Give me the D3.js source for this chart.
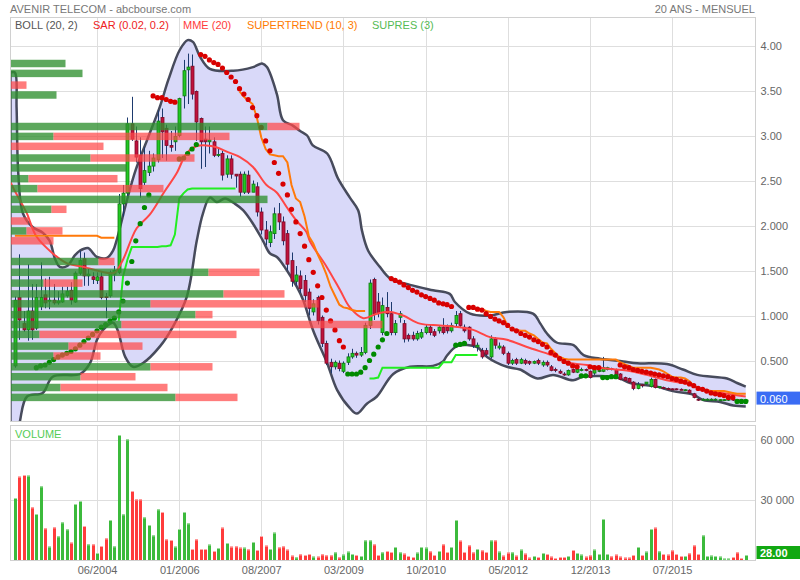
<!DOCTYPE html>
<html><head><meta charset="utf-8">
<script src="https://cdn.jsdelivr.net/npm/d3@7"></script>
<style>body{margin:0;background:#fff;}svg{display:block;font-family:"Liberation Sans",Arial,sans-serif;}</style>
</head><body><svg id="c" width="800" height="580"></svg>
<script>
// ---------- DATA (monthly, index 0 = Nov 2002) ----------
const open = [.44,1.20,.91,.84,1.05,.86,1.10,1.23,1.16,1.17, 1.14,1.15,1.22,1.28,1.15,1.47,1.63,1.44,1.43,1.39, 1.43,1.21,1.22,1.46,1.48,2.24,2.36,3.13,2.94,2.78, 2.48,2.59,2.66,2.73,3.20,3.08,2.89,2.93,3.00,3.44, 3.73,3.77,3.49,3.19,2.96,2.93,2.93,2.78,2.80,2.57, 2.74,2.57,2.57,2.37,2.56,2.37,2.43,2.15,1.95,1.81, 1.91,2.13,2.04,1.91,1.61,1.38,1.44,1.39,1.26,1.04, 1.20,.98,.69,.48,.43,.47,.38,.48,.54,.58, .56,.59,.89,1.40,1.15,.81,1.09,1.02,.81,.98, .91,.78,.78,.74,.76,.81,.87,.82,.83,.87, .87,.83,.91,1.02,.87,.87,.74,.65,.61,.61, .54,.74,.64,.65,.58,.47,.51,.47,.50,.49, .47,.50,.45,.48,.43,.40,.38,.35,.34,.40, .37,.39,.40,.38,.36,.38,.38,.40,.41,.40, .35,.31,.30,.26,.19,.23,.24,.21,.29,.20, .20,.19,.185,.185,.18,.17,.17,.13,.07,.06, .06,.06,.06,.06,.06,.06,.07,.065,.065,.055];
const high = [1.21,1.68,1.05,1.57,1.35,1.35,1.59,1.41,1.43,1.35, 1.27,1.32,1.32,1.37,1.49,1.72,1.70,1.52,1.48,1.48, 1.49,1.25,1.50,1.55,2.35,2.45,3.20,3.43,3.10,2.98, 2.87,2.83,2.80,3.28,3.30,3.12,3.05,3.10,3.42,3.84, 3.91,3.90,3.50,3.20,3.10,3.10,2.98,2.85,2.83,2.78, 2.78,2.57,2.60,2.60,2.61,2.50,2.48,2.20,2.05,2.00, 2.20,2.25,2.10,1.95,1.70,1.55,1.50,1.45,1.30,1.18, 1.22,1.00,.72,.52,.50,.50,.49,.58,.63,.60, .65,.92,1.40,1.42,1.25,1.20,1.26,1.15,.95,1.05, .95,.80,.82,.83,.85,.90,.90,.85,.88,.97, .90,.92,1.05,1.05,.90,.88,.77,.70,.64,.64, .78,.76,.70,.67,.60,.52,.53,.53,.52,.50, .50,.52,.50,.50,.45,.42,.40,.37,.40,.41, .42,.42,.41,.39,.42,.40,.54,.43,.42,.41, .36,.32,.31,.27,.26,.24,.26,.31,.30,.21, .21,.20,.19,.19,.19,.18,.18,.14,.08,.08, .08,.08,.08,.07,.07,.08,.08,.07,.07,.065];
const low = [.42,.73,.82,.72,.73,.84,1.06,1.08,1.07,1.12, 1.12,1.14,1.20,1.12,1.14,1.45,1.33,1.33,1.35,1.35, 1.18,.97,1.20,1.38,1.46,2.10,2.30,2.94,2.70,2.31, 2.45,2.55,2.60,2.70,2.75,2.72,2.82,2.83,2.98,3.30, 3.35,3.40,2.94,2.63,2.65,2.80,2.76,2.76,2.50,2.53, 2.52,2.42,2.32,2.35,2.35,2.37,2.10,1.90,1.78,1.76, 1.85,1.95,1.78,1.50,1.32,1.33,1.25,1.15,1.00,1.00, .90,.65,.45,.36,.40,.38,.36,.45,.52,.53, .54,.57,.85,.95,.98,.78,.98,.78,.78,.92, .70,.71,.72,.72,.74,.79,.78,.76,.80,.79, .80,.81,.88,.86,.81,.72,.64,.60,.52,.55, .52,.63,.62,.56,.45,.45,.45,.46,.45,.45, .46,.45,.43,.43,.38,.37,.35,.33,.33,.36, .36,.38,.38,.30,.34,.37,.37,.39,.39,.33, .28,.27,.25,.17,.18,.20,.23,.20,.19,.19, .18,.17,.17,.17,.17,.16,.13,.08,.05,.05, .05,.05,.05,.05,.05,.05,.05,.05,.05,.05];
const close = [1.17,.95,.84,1.05,.84,1.20,1.20,1.14,1.17,1.14, 1.16,1.24,1.27,1.17,1.47,1.61,1.44,1.46,1.40,1.43, 1.20,1.20,1.48,1.50,2.24,2.36,3.13,2.96,2.76,2.41, 2.61,2.66,2.75,3.16,3.04,2.89,2.87,2.99,3.41,3.72, 3.76,3.46,3.15,2.93,2.93,2.95,2.78,2.79,2.56,2.74, 2.57,2.55,2.37,2.57,2.37,2.46,2.15,1.95,1.85,1.93, 2.13,2.04,1.83,1.57,1.38,1.45,1.30,1.22,1.08,1.13, .94,.69,.47,.43,.48,.41,.47,.54,.58,.56, .59,.89,1.36,1.02,1.02,1.11,1.02,.81,.91,1.02, .74,.74,.74,.80,.81,.87,.81,.78,.87,.81, .83,.89,1.00,.89,.83,.74,.67,.67,.54,.57, .74,.67,.66,.58,.47,.50,.47,.51,.47,.47, .49,.47,.48,.45,.39,.39,.36,.34,.39,.37, .40,.40,.39,.31,.41,.39,.42,.42,.40,.34, .29,.28,.26,.19,.23,.22,.26,.29,.20,.21, .19,.18,.18,.18,.175,.175,.14,.09,.06,.07, .07,.07,.07,.065,.065,.07,.06,.06,.06,.06];
const volume = [31000,41700,42500,42200,26300,23000,36800,15800,6700,16300, 11800,18800,15300,8700,28000,29500,17000,7800,7800,3500, 7000,10800,20000,6800,62500,22800,60300,34500,30300,30300, 21300,17500,12300,25300,24000,10300,10000,6700,15500,24000, 18300,5500,10300,5500,5500,7700,4500,6000,16200,8500, 6700,6800,6200,6200,5300,9000,5000,12000,7200,5500, 13700,6300,6800,5200,2200,1300,2800,2500,3000,1700, 1700,2800,2300,2300,3800,1300,2700,4200,3000,2500, 2000,9800,9800,7800,2500,3800,4500,4000,6500,3800, 3200,2000,1500,3700,6500,6200,4300,2500,4500,7800, 4000,6500,20000,9700,4000,7300,3800,5500,4800,4000, 9800,9800,4200,2200,3700,3800,2200,5200,3200,1200, 2000,1500,3500,3000,1700,1000,1500,1500,2000,5000, 3500,2700,1700,2300,5200,3000,20500,3000,1800,2700, 1700,1200,1200,2500,6500,2500,4200,15500,16200,4300, 3000,2700,4800,3000,2000,2000,3300,7300,3000,12300, 2000,2200,2000,1700,700,700,1500,3800,1000,2500];

// Bollinger (20,2): [month index, value]
const bollUpper = [[-1,3.70],[0,3.70],[0.4,3.31],[0.8,2.58],[1.9,2.13],[4.2,1.98],[6.5,1.92],[8.1,1.83],[9.3,1.63],[10.4,1.54],[12.1,1.55],[13.9,1.67],[15.0,1.72],[16.9,1.75],[19.0,1.65],[21.3,1.64],[22.7,1.72],[23.6,1.85],[26.0,2.30],[28.0,2.62],[30.6,2.95],[33.6,3.33],[35.5,3.62],[38.1,3.95],[40.0,4.06],[41.2,4.04],[42.8,3.88],[45.1,3.74],[50.5,3.72],[55.1,3.76],[57.2,3.80],[58.3,3.76],[60.6,3.46],[62.0,3.17],[64.3,3.11],[66.0,3.05],[67.6,3.00],[68.9,2.89],[72.2,2.80],[74.7,2.52],[77.5,2.31],[79.4,2.17],[80.3,1.94],[81.7,1.72],[84.4,1.54],[86.8,1.41],[91.4,1.34],[96.7,1.28],[100.6,1.24],[101.8,1.15],[105.3,1.02],[109.9,1.00],[113.8,1.04],[119.8,1.02],[121.5,0.91],[123.0,0.80],[125.3,0.70],[129.2,0.67],[131.5,0.56],[135.3,0.52],[140.7,0.49],[143.9,0.47],[150.8,0.46],[154.5,0.40],[157.8,0.34],[164.7,0.30],[167.0,0.25],[169.0,0.21]];
const bollLower = [[-1,-0.60],[0.5,-0.40],[1.2,-0.17],[2.8,0.10],[6.5,0.14],[8.8,0.32],[15.1,0.35],[17.4,0.47],[19.0,0.73],[20.4,0.84],[22.7,0.92],[23.8,0.83],[25.5,0.54],[27.3,0.43],[29.6,0.47],[33.6,0.66],[36.6,0.88],[39.8,1.21],[42.1,1.83],[43.5,2.13],[45.1,2.31],[46.7,2.26],[48.6,2.30],[50.9,2.24],[52.8,2.17],[55.1,2.02],[57.4,1.83],[59.0,1.69],[60.6,1.65],[62.9,1.50],[65.2,1.32],[66.7,1.17],[69.0,0.83],[72.2,0.47],[74.5,0.17],[77.5,-0.03],[79.1,-0.09],[81.4,0.02],[83.7,0.10],[87.5,0.35],[91.4,0.43],[96.7,0.44],[99.0,0.49],[99.9,0.55],[102.3,0.66],[106.9,0.65],[109.2,0.54],[113.8,0.43],[116.8,0.40],[120.8,0.30],[124.5,0.34],[129.1,0.28],[131.4,0.32],[139.3,0.31],[142.3,0.25],[148.5,0.21],[152.2,0.16],[156.9,0.12],[159.2,0.06],[163.1,0.04],[166.1,0.00],[169.0,-0.01]];
// MME (20)
const mme = [[-1,2.48],[-0.4,2.42],[2.7,2.14],[5.0,1.88],[8.8,1.69],[12.1,1.58],[15.8,1.54],[22.0,1.47],[23.2,1.48],[25.0,1.62],[28.2,1.97],[31.2,2.12],[34.5,2.37],[37.4,2.58],[39.7,2.80],[42.0,2.88],[44.3,2.89],[46.6,2.87],[49.0,2.82],[52.1,2.76],[55.1,2.65],[58.2,2.45],[60.5,2.37],[62.9,2.20],[65.2,2.05],[67.4,1.93],[68.3,1.82],[72.1,1.54],[75.2,1.28],[77.5,1.09],[80.6,0.97],[83.7,1.02],[86.8,1.04],[89.8,1.00],[93.7,0.91],[98.3,0.89],[103.0,0.87],[106.0,0.84],[109.9,0.76],[113.8,0.73],[118.4,0.65],[123.5,0.57],[125.9,0.53],[127.7,0.48],[132.3,0.45],[136.9,0.41],[141.5,0.39],[146.1,0.34],[150.8,0.28],[155.4,0.24],[160.0,0.17],[164.7,0.13],[169.0,0.10]];
// SAR (0.02, 0.2): values from month 5 onward; red (above price) ranges
const sarStart = 5;
const sarValues = [.42,.44,.45,.48,.51,.54,.56,.58,.60,.63, .67,.71,.75,.79,.83,.87,.90,.94,.97,1.04, 1.16,1.36,1.60,1.83,2.02,2.20,2.34,3.44,3.42,3.42, 3.40,3.38,3.37,2.74,2.75,2.80,2.85,2.90,3.90,3.88, 3.84,3.81,3.79,3.75,3.70,3.65,3.60,3.52,3.46,3.40, 3.31,3.22,3.09,2.94,2.83,2.70,2.58,2.46,2.34,2.18, 2.04,1.91,1.77,1.62,1.48,1.33,1.20,1.06,.94,.84, .72,.65,.35,.35,.35,.37,.42,.50,.57,.65, .73,.80,1.41,1.39,1.37,1.34,1.31,1.28,1.26,1.23, 1.21,1.19,1.17,1.14,1.13,1.12,1.10,.67,.68,.69, 1.09,1.09,1.07,1.06,1.02,.99,.96,.94,.92,.89, .85,.83,.80,.78,.76,.73,.71,.68,.65,.59, .56,.52,.49,.47,.44,.43,.33,.33,.43,.42, .42,.31,.31,.32,.32,.45,.43,.42,.40,.39, .38,.37,.36,.35,.34,.33,.32,.30,.29,.27, .26,.24,.22,.19,.18,.16,.14,.13,.12,.11, .09,.09,.045,.045,.045];
const sarRedRanges = [[32,37],[43,76],[87,101],[105,130],[133,135],[140,166]];
// SUPERTREND (10,3) segments
const stStart1 = 0,   supertrend1 = [1.885,1.885,1.885,1.885,1.885,1.885,1.885,1.885,1.885,1.885,1.885,1.885,1.885,1.885,1.885,1.885,1.885,1.885,1.885,1.885,1.865,1.865,1.865,1.865];
const stStart2 = 52,  supertrend2 = [3.49,3.43,3.39,3.35,3.20,2.98,2.85,2.79,2.78,2.77,2.77,2.70,2.45,2.30,2.26,2.10,1.88,1.80,1.68,1.58,1.46,1.32,1.22,1.12,1.09,1.08,1.06,1.05,1.05,1.05];
const stStart3 = 108, supertrend3 = [1.07,1.05,1.04,1.04,1.04,.98,.88,.85,.84,.83,.83,.80,.78,.74,.70,.69,.63,.58,.54,.52, .51,.51,.51,.51,.51,.51,.51,.51,.51,.51,.51,.51, .48,.46,.44,.42,.42,.42,.42,.42,.41,.40,.38,.35,.32,.31,.31,.30,.27,.22,.19,.18,.17,.16,.16,.16,.16,.15,.14,.13,.13,.13];
// SUPRES (3) segments
const spStart1 = 24, supres1 = [.94,1.43,1.62,1.76, 1.76,1.76,1.76,1.76,1.76,1.76,1.77,1.77,1.78, 1.90,2.30,2.36,2.40, 2.41,2.41,2.41,2.41,2.41,2.41,2.41,2.41,2.41,2.41,2.41];
const spStart2 = 82, supres2 = [.30,.30,.31, .42,.42,.42,.42,.42,.42,.42,.42,.42,.42,.42,.42,.42,.42, .48,.48,.48, .56,.56,.56,.56,.56,.56];
// Volume by price (left histogram)
const vbpLevels = [0.09,0.20,0.32,0.43,0.55,0.66,0.79,0.90,1.01,1.13,1.24,1.36,1.48,1.60,1.83,1.94,2.05,2.18,2.29,2.41,2.52,2.64,2.75,2.88,2.99,3.10,3.45,3.56,3.69,3.80];
const vbpUp   = [165,50,70,140,43,58,29,111,185,140,213,33,198,88,0,16,0,41,257,27,18,116,80,0,43,257,46,0,72,55];
const vbpDown = [62,107,55,62,47,74,197,261,17,168,61,39,51,16,43,36,18,15,0,126,89,0,104,93,176,32,0,16,0,0];
// Axes
const priceTicks = [0.5,1,1.5,2,2.5,3,3.5,4];
const priceTickLabels = ["0.500","1.000","1.500","2.000","2.50","3.00","3.50","4.00"];
const volTicks = [30000,60000];
const volTickLabels = ["30 000","60 000"];
const dateTicks = ["2004-06","2006-01","2007-08","2009-03","2010-10","2012-05","2013-12","2015-07"];
const lastPriceLabel = "0.060", lastVolLabel = "28.00";
const legendItems = [["BOLL (20, 2)","#555555",15],["SAR (0.02, 0.2)","#ee2222",93],["MME (20)","#ff3b3b",183],["SUPERTREND (10, 3)","#ff7a00",247],["SUPRES (3)","#55bb55",372]];

// ---------- CHART ----------
const svg = d3.select("#c");
const L = 10.5, R = 755.5, T = 17.5, B = 421.5, VT = 425.5, VB = 560.5;
const x = d3.scaleTime().domain([new Date(2004,5,1), new Date(2015,6,1)]).range([97,672]);
const y = d3.scaleLinear().domain([0,4]).range([405.5,45.5]);
const yv = d3.scaleLinear().domain([0,60000]).range([560,440]);
const vbpX = d3.scaleLinear().domain([0,100]).range([L, L+100]);
function tDate(t){const f=Math.floor(t);const d0=new Date(2002,10+f,1),d1=new Date(2002,11+f,1);return new Date(+d0+(t-f)*(d1-d0));}
const xi = t => x(tDate(t));
const N = close.length;

svg.append("text").attr("x",10).attr("y",13).attr("font-size",11).attr("fill","#777").text("AVENIR TELECOM - abcbourse.com");
svg.append("text").attr("x",755).attr("y",13).attr("font-size",11).attr("fill","#777").attr("text-anchor","end").text("20 ANS - MENSUEL");

svg.append("defs").append("clipPath").attr("id","clipM").append("rect").attr("x",L).attr("y",T).attr("width",R-L).attr("height",B-T);

const grid = svg.append("g").attr("stroke","#dedede").attr("stroke-width",1).attr("shape-rendering","crispEdges");
priceTicks.forEach(p=>grid.append("line").attr("x1",L).attr("x2",R).attr("y1",Math.round(y(p))+0.5).attr("y2",Math.round(y(p))+0.5));
volTicks.forEach(v=>grid.append("line").attr("x1",L).attr("x2",R).attr("y1",Math.round(yv(v))+0.5).attr("y2",Math.round(yv(v))+0.5));
const tickDates = dateTicks.map(s=>{const [yy,mm]=s.split("-").map(Number);return new Date(yy,mm-1,1);});
tickDates.forEach(d=>{const xx=Math.round(x(d))+0.5;grid.append("line").attr("x1",xx).attr("x2",xx).attr("y1",T).attr("y2",B);grid.append("line").attr("x1",xx).attr("x2",xx).attr("y1",VT).attr("y2",VB);});

const main = svg.append("g").attr("clip-path","url(#clipM)");
const curve = d3.curveCatmullRom.alpha(0.5);
const lineT = d3.line().x(d=>xi(d[0])).y(d=>y(d[1])).curve(curve);
// Bollinger fill
const upPath = lineT(bollUpper);
const loPath = lineT(bollLower.slice().reverse());
main.append("path").attr("d", upPath + "L" + loPath.slice(1) + "Z").attr("fill","#d9d9f9").attr("stroke","none");
main.append("path").attr("d",upPath).attr("fill","none").attr("stroke","#474b5c").attr("stroke-width",2.5);
main.append("path").attr("d",lineT(bollLower)).attr("fill","none").attr("stroke","#474b5c").attr("stroke-width",2.5);
main.append("line").attr("x1",xi(-1)).attr("x2",xi(-1)).attr("y1",y(bollUpper[0][1])).attr("y2",y(bollLower[0][1])).attr("stroke","#474b5c").attr("stroke-width",2.5);

// candles
const cg = main.append("g");
for(let i=0;i<N;i++){
  const cx = Math.round(xi(i))+0.5;
  cg.append("line").attr("x1",cx).attr("x2",cx).attr("y1",y(high[i])).attr("y2",y(low[i])).attr("stroke","#1d3a6e").attr("stroke-width",1);
  const up = close[i]>=open[i];
  const yt = y(Math.max(open[i],close[i])), yb = y(Math.min(open[i],close[i]));
  cg.append("rect").attr("x",cx-1.5).attr("y",yt).attr("width",3).attr("height",Math.max(1,yb-yt))
    .attr("fill",up?"#22c922":"#c0123c").attr("stroke",up?"#0e7a0e":"#7d0a26").attr("stroke-width",0.8);
}
// MME
main.append("path").attr("d",lineT(mme)).attr("fill","none").attr("stroke","#ff4646").attr("stroke-width",2);
// supertrend + supres
const seg = (start, vals) => vals.map((v,k)=>[start+k,v]);
const lineLin = d3.line().x(d=>xi(d[0])).y(d=>y(d[1]));
[[stStart1,supertrend1],[stStart2,supertrend2],[stStart3,supertrend3]].forEach(([s,v])=>main.append("path").attr("d",lineLin(seg(s,v))).attr("fill","none").attr("stroke","#ff7a0a").attr("stroke-width",2));
[[spStart1,supres1],[spStart2,supres2]].forEach(([s,v])=>main.append("path").attr("d",lineLin(seg(s,v))).attr("fill","none").attr("stroke","#22ee22").attr("stroke-width",2));
// SAR
const isRed = i => sarRedRanges.some(([a,b])=>i>=a&&i<=b);
sarValues.forEach((v,k)=>{const i=sarStart+k;main.append("circle").attr("cx",xi(i)).attr("cy",y(v)).attr("r",2.6).attr("fill",isRed(i)?"#d80000":"#008a00");});
// volume by price
const bh = y(0)-y(0.083);
vbpLevels.forEach((p,k)=>{
  const yc = y(p)-bh/2;
  if(vbpUp[k]>0) main.append("rect").attr("x",vbpX(0)).attr("y",yc).attr("width",vbpX(vbpUp[k])-vbpX(0)).attr("height",bh).attr("fill","#2f8f2f").attr("opacity",0.78);
  if(vbpDown[k]>0) main.append("rect").attr("x",vbpX(vbpUp[k])).attr("y",yc).attr("width",vbpX(vbpDown[k])-vbpX(0)).attr("height",bh).attr("fill","#ff4a4a").attr("opacity",0.72);
});
// legend band
legendItems.forEach(([t,c,xx])=>svg.append("text").attr("x",xx).attr("y",29).attr("font-size",11).attr("fill",c).text(t));

// frames
svg.append("rect").attr("x",L).attr("y",T).attr("width",R-L).attr("height",B-T).attr("fill","none").attr("stroke","#d0d0d0");
svg.append("rect").attr("x",L).attr("y",VT).attr("width",R-L).attr("height",VB-VT).attr("fill","none").attr("stroke","#d0d0d0");

// volume bars
const vg = svg.append("g");
for(let i=0;i<N;i++){
  const cx = Math.round(xi(i));
  const up = close[i]>=open[i];
  const yt = yv(volume[i]);
  vg.append("rect").attr("x",cx-1).attr("y",yt).attr("width",3).attr("height",560-yt).attr("fill",up?"#3cba3c":"#ff3c3c");
  vg.append("rect").attr("x",cx-1).attr("y",yt).attr("width",3).attr("height",1).attr("fill",up?"#9fdc9f":"#ffa8a8");
}
svg.append("text").attr("x",15).attr("y",438).attr("font-size",11).attr("fill","#55cc55").text("VOLUME");

// axes
const styleAxis = g => {g.select(".domain").remove();g.selectAll("text").attr("fill","#666").attr("font-size",11).attr("font-family","Liberation Sans, Arial, sans-serif");};
svg.append("g").attr("transform",`translate(${R},0)`).call(d3.axisRight(y).tickValues(priceTicks).tickFormat((d,i)=>priceTickLabels[i]).tickSize(0).tickPadding(5)).call(styleAxis);
svg.append("g").attr("transform",`translate(${R},0)`).call(d3.axisRight(yv).tickValues(volTicks).tickFormat((d,i)=>volTickLabels[i]).tickSize(0).tickPadding(5)).call(styleAxis);
svg.append("g").attr("transform",`translate(0,560)`).call(d3.axisBottom(x).tickValues(tickDates).tickFormat(d3.timeFormat("%m/%Y")).tickSize(0).tickPadding(6)).call(styleAxis);

// last value boxes
const ly = y(close[N-1]);
svg.append("rect").attr("x",756.5).attr("y",ly-8.5).attr("width",44).attr("height",13).attr("fill","#3a6cf4");
svg.append("text").attr("x",760).attr("y",ly+2.5).attr("font-size",11).attr("fill","#fff").text(lastPriceLabel);
const lv = yv(volume[N-1]);
svg.append("rect").attr("x",756.5).attr("y",lv-9).attr("width",44).attr("height",13).attr("fill","#12a812");
svg.append("text").attr("x",760).attr("y",lv+2).attr("font-size",11).attr("fill","#fff").attr("font-weight","bold").text(lastVolLabel);
</script></body></html>
